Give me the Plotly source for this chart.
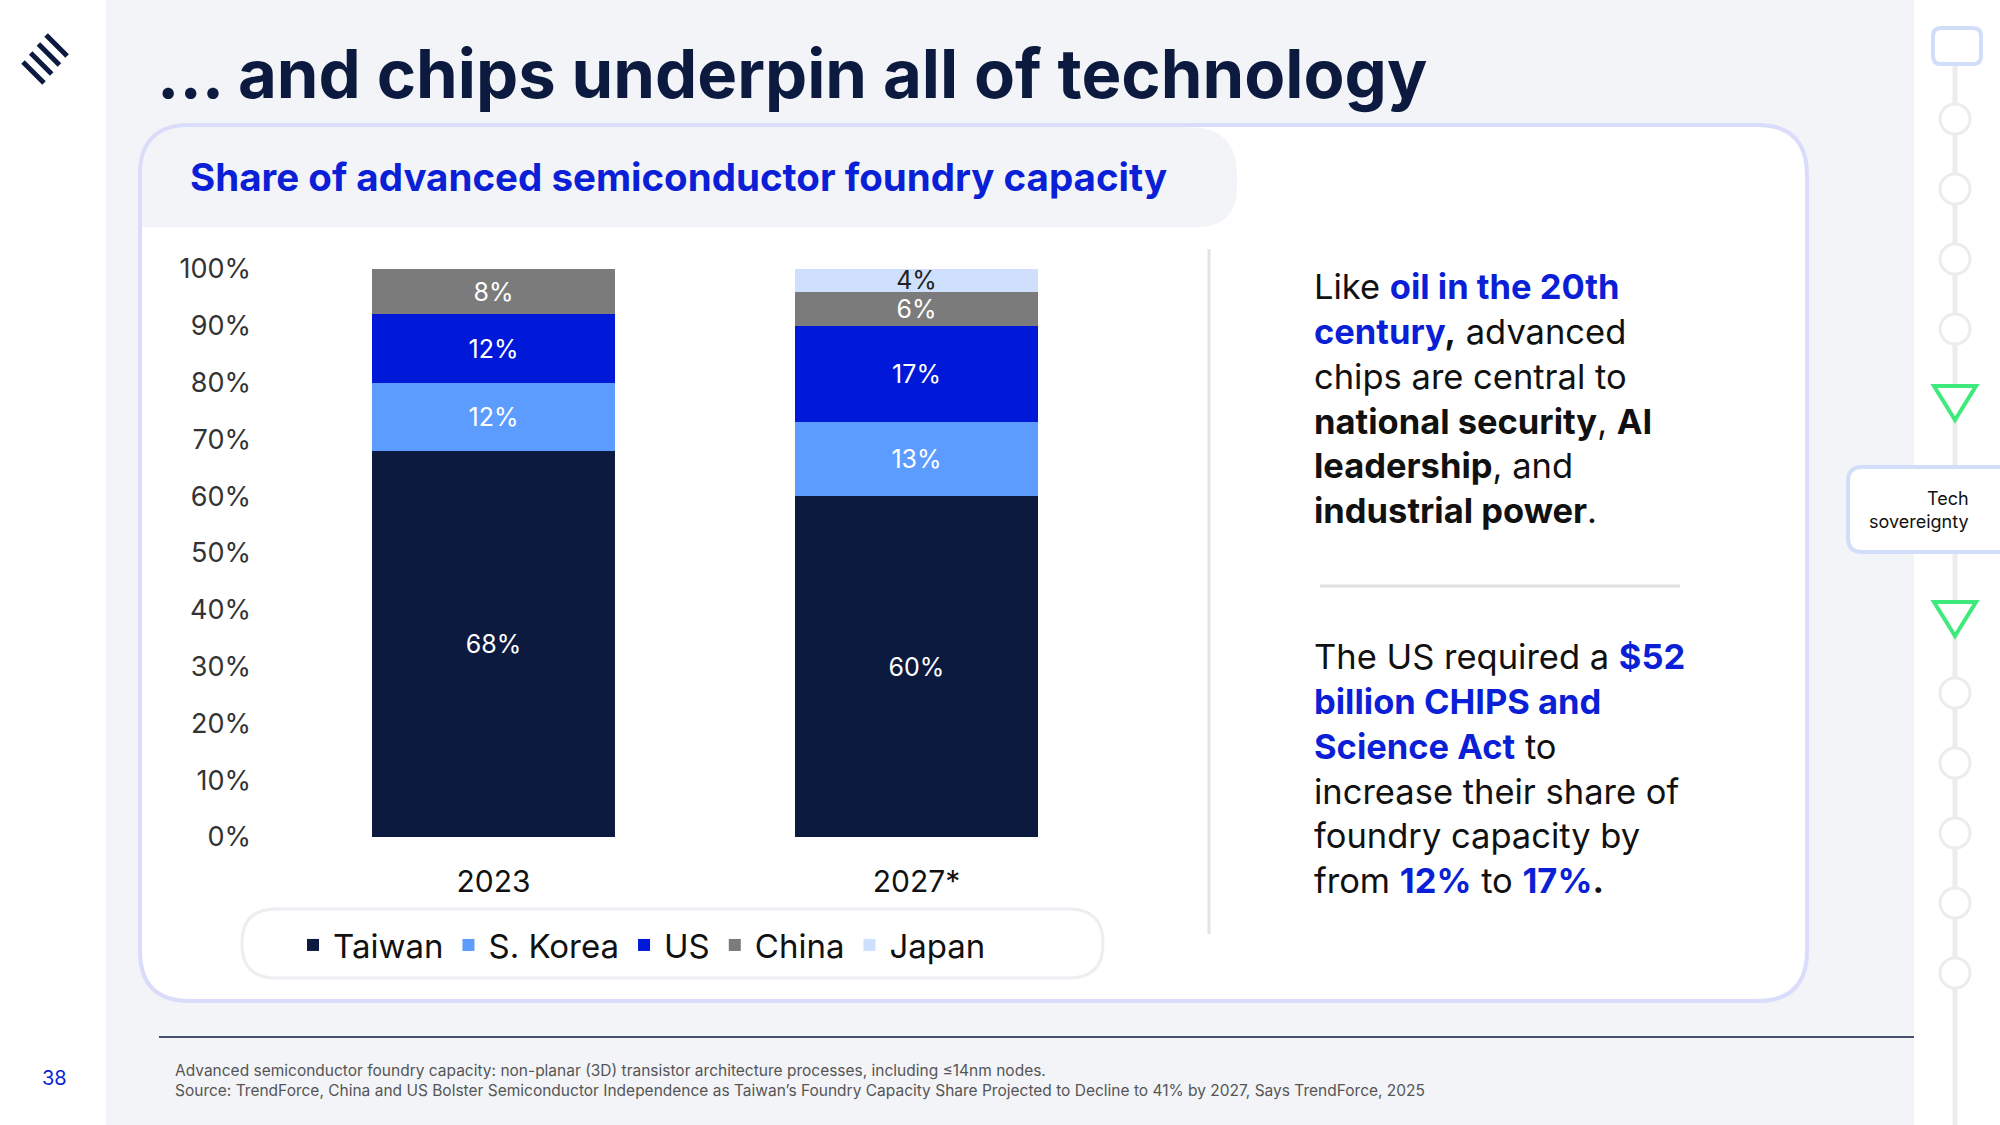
import plotly.graph_objects as go

years = ["2023", "2027*"]
regions = ["Taiwan", "S. Korea", "US", "China", "Japan"]
shares = {
    "Taiwan": [68, 60],
    "S. Korea": [12, 13],
    "US": [12, 17],
    "China": [8, 6],
    "Japan": [0, 4],
}
colors = {"Taiwan": "#0c1a3f", "S. Korea": "#5c9cff", "US": "#0019d9",
          "China": "#7b7b7b", "Japan": "#cfe0ff"}
label_colors = {"Taiwan": "white", "S. Korea": "white", "US": "white",
                "China": "white", "Japan": "#222"}
yticks = list(range(0, 101, 10))

W, H = 2000, 1125
FONT = "Inter"

def px(x): return x / W
def py(y): return 1 - y / H

def rrect(x0, y0, x1, y1, r=(20, 20, 20, 20)):
    tl, tr, br, bl = r
    pts = [f"M {px(x0+tl)},{py(y0)}", f"L {px(x1-tr)},{py(y0)}",
           f"Q {px(x1)},{py(y0)} {px(x1)},{py(y0+tr)}",
           f"L {px(x1)},{py(y1-br)}", f"Q {px(x1)},{py(y1)} {px(x1-br)},{py(y1)}",
           f"L {px(x0+bl)},{py(y1)}", f"Q {px(x0)},{py(y1)} {px(x0)},{py(y1-bl)}",
           f"L {px(x0)},{py(y0+tl)}", f"Q {px(x0)},{py(y0)} {px(x0+tl)},{py(y0)}", "Z"]
    return " ".join(pts)

fig = go.Figure()
for reg in regions:
    vals = shares[reg]
    fig.add_trace(go.Bar(
        x=years, y=vals, name=reg, marker=dict(color=colors[reg], line=dict(width=0)),
        text=[f"{v}%" if v else "" for v in vals], textposition="inside",
        insidetextanchor="middle", constraintext="none", cliponaxis=False,
        textfont=dict(color=label_colors[reg], size=25, family=FONT),
        width=0.574, hoverinfo="skip"))

shapes = []
shapes.append(dict(type="rect", xref="paper", yref="paper", x0=0, x1=px(106), y0=0, y1=1,
                   fillcolor="white", line_width=0, layer="below"))
shapes.append(dict(type="rect", xref="paper", yref="paper", x0=px(1914), x1=1, y0=0, y1=1,
                   fillcolor="white", line_width=0, layer="below"))
shapes.append(dict(type="path", xref="paper", yref="paper",
                   path=rrect(140, 125, 1807, 1001, (50, 50, 50, 50)),
                   fillcolor="white", line=dict(color="#d9dcfa", width=4), layer="below"))
shapes.append(dict(type="path", xref="paper", yref="paper",
                   path=rrect(142, 127, 1237, 227, (48, 48, 40, 0)),
                   fillcolor="#f3f4f8", line_width=0, layer="below"))
shapes.append(dict(type="path", xref="paper", yref="paper",
                   path=rrect(242, 909, 1103, 978, (34, 34, 34, 34)),
                   fillcolor="white", line=dict(color="#ededf2", width=3), layer="below"))
shapes.append(dict(type="line", xref="paper", yref="paper", x0=px(1209), x1=px(1209),
                   y0=py(249), y1=py(934), line=dict(color="#e3e3e6", width=3)))
shapes.append(dict(type="line", xref="paper", yref="paper", x0=px(1320), x1=px(1680),
                   y0=py(586), y1=py(586), line=dict(color="#e0e0e3", width=3)))
shapes.append(dict(type="line", xref="paper", yref="paper", x0=px(159), x1=px(1914),
                   y0=py(1037), y1=py(1037), line=dict(color="#0c1a3f", width=1.5)))
for i in range(4):
    dx, dy = i * 7.7, -i * 9
    shapes.append(dict(type="line", xref="paper", yref="paper",
                       x0=px(23 + dx), y0=py(62 + dy), x1=px(44 + dx), y1=py(83 + dy),
                       line=dict(color="#0c1a3f", width=5)))
shapes.append(dict(type="line", xref="paper", yref="paper", x0=px(1955), x1=px(1955),
                   y0=py(64), y1=0, line=dict(color="#ececec", width=5)))
shapes.append(dict(type="path", xref="paper", yref="paper",
                   path=rrect(1933, 28, 1981, 64, (8, 8, 8, 8)),
                   fillcolor="white", line=dict(color="#d2def9", width=4)))
for cy in [119, 189, 259, 329, 693, 763, 833, 903, 973]:
    shapes.append(dict(type="circle", xref="paper", yref="paper",
                       x0=px(1940), x1=px(1970), y0=py(cy + 15), y1=py(cy - 15),
                       fillcolor="white", line=dict(color="#ececec", width=3)))
for ty in [403, 619]:
    shapes.append(dict(type="path", xref="paper", yref="paper",
                       path=f"M {px(1934)},{py(ty-17)} L {px(1976)},{py(ty-17)} L {px(1955)},{py(ty+17)} Z",
                       fillcolor="white", line=dict(color="#3eea7c", width=4)))
shapes.append(dict(type="path", xref="paper", yref="paper",
                   path=rrect(1848, 467, 2030, 552, (14, 14, 14, 14)),
                   fillcolor="white", line=dict(color="#d2def9", width=4)))

ann = []
def A(x, y, text, size, color="#111", xanchor="left", yanchor="middle", align="left", family=FONT):
    ann.append(dict(xref="paper", yref="paper", x=px(x), y=py(y), text=text, showarrow=False,
                    xanchor=xanchor, yanchor=yanchor, align=align,
                    font=dict(size=size, color=color, family=family)))

A(155, 73, "<b>... and chips underpin all of technology</b>", 67, "#0c1a3f")
A(188, 177, "<b>Share of advanced semiconductor foundry capacity</b>", 38.5, "#0a1fd6")
B = "#0a1fd6"
p1 = (f"Like <b><span style='color:{B}'>oil in the 20th</span></b><br>"
      f"<b><span style='color:{B}'>century</span>,</b> advanced<br>"
      "chips are central to<br><b>national security</b>, <b>AI</b><br>"
      "<b>leadership</b>, and<br><b>industrial power</b>.")
A(1312, 264, p1, 34.5, yanchor="top")
p2 = (f"The US required a <b><span style='color:{B}'>$52</span></b><br>"
      f"<b><span style='color:{B}'>billion CHIPS and</span></b><br>"
      f"<b><span style='color:{B}'>Science Act</span></b> to<br>increase their share of<br>"
      f"foundry capacity by<br>from <b><span style='color:{B}'>12%</span></b> to <b><span style='color:{B}'>17%</span>.</b>")
A(1312, 634, p2, 34.5, yanchor="top")
A(173, 1070, "Advanced semiconductor foundry capacity: non-planar (3D) transistor architecture processes, including ≤14nm nodes.", 15.5, "#555")
A(173, 1090, "Source: TrendForce, China and US Bolster Semiconductor Independence as Taiwan’s Foundry Capacity Share Projected to Decline to 41% by 2027, Says TrendForce, 2025", 15.5, "#555")
A(54, 1078, "38", 20, "#0a1fd6", xanchor="center")
A(1971, 510, "Tech<br>sovereignty", 18, "#111", xanchor="right", align="right")

fig.update_layout(
    width=W, height=H, margin=dict(l=0, r=0, t=0, b=0, autoexpand=False),
    paper_bgcolor="#f3f4f8", plot_bgcolor="rgba(0,0,0,0)",
    barmode="stack", bargap=0.426, shapes=shapes, annotations=ann,
    font=dict(family=FONT),
    xaxis=dict(domain=[px(282), px(1128)], range=[-0.5, 1.5], showgrid=False,
               showline=False, ticks="", tickfont=dict(size=30, color="#111"),
               ticklabelstandoff=24, automargin=False),
    yaxis=dict(domain=[py(837), py(269)], range=[0, 100], tickvals=yticks,
               ticktext=[f"{v}%" for v in yticks], showgrid=False, zeroline=False,
               tickfont=dict(size=27, color="#333"), ticklabelstandoff=30, automargin=False),
    legend=dict(orientation="h", x=px(293), y=py(945), xanchor="left", yanchor="middle",
                font=dict(size=33, color="#111"), bgcolor="rgba(0,0,0,0)",
                traceorder="normal", itemwidth=30),
)
fig.write_html("out.html", config={"displayModeBar": False},
               post_script="document.body.style.margin='0';document.body.style.overflow='hidden';")
